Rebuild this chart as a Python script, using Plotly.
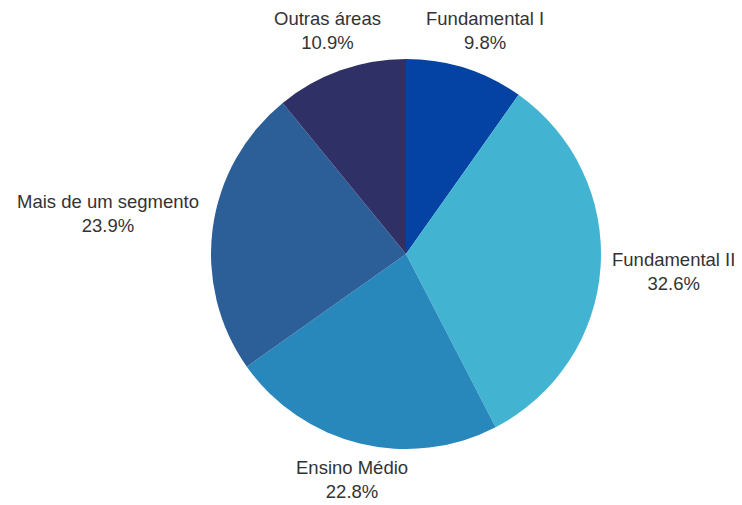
import math
import plotly.graph_objects as go

categories = ["Fundamental I", "Fundamental II", "Ensino Médio", "Mais de um segmento", "Outras áreas"]
values = [9.8, 32.6, 22.8, 23.9, 10.9]
colors = ["#0443a3", "#42b4d2", "#2887bb", "#2c5e97", "#2e3066"]

W, H = 742, 505
OFF = 8  # page body margin
cx, cy, r = 406 - OFF, 254 - OFF, 195
FS = 18.5

# small label placement nudges (pixels), layout only
label_nudge = {
    "Fundamental I": (-2, -3),
    "Fundamental II": (-2, 2),
    "Ensino Médio": (8, 1),
    "Mais de um segmento": (-1, -10),
    "Outras áreas": (10, -5),
}

fig = go.Figure(go.Pie(
    labels=categories,
    values=values,
    sort=False,
    direction="clockwise",
    rotation=0,
    marker=dict(colors=colors, line=dict(width=0)),
    textinfo="none",
    domain=dict(x=[(cx - r) / W, (cx + r) / W], y=[(H - cy - r) / H, (H - cy + r) / H]),
    showlegend=False,
    hoverinfo="label+percent",
))

total = sum(values)
cum = 0
annotations = []
for lab, v in zip(categories, values):
    mid = (cum + v / 2) / total * 2 * math.pi
    cum += v
    ux, uy = math.sin(mid), -math.cos(mid)
    d = r + 11
    px, py = cx + d * ux, cy + d * uy
    w_est = len(lab) * 0.52 * FS
    h_est = 46
    if ux > 0.5:
        xa, xs = "left", 0
    elif ux < -0.5:
        xa, xs = "right", 0
    else:
        xa, xs = "center", ux * w_est / 2
    if uy > 0.5:
        ya, ys = "top", 0
    elif uy < -0.5:
        ya, ys = "bottom", 0
    else:
        ya, ys = "middle", uy * h_est / 2
    nx, ny = label_nudge.get(lab, (0, 0))
    annotations.append(dict(
        x=(px + xs + nx) / W, y=1 - (py + ys + ny) / H, xref="paper", yref="paper",
        xanchor=xa, yanchor=ya, showarrow=False, align="center",
        text=f"{lab}<br>{v / total * 100:.1f}%",
        font=dict(family="Liberation Sans, Arial, sans-serif", size=FS, color="#333333"),
    ))

fig.update_layout(
    width=W, height=H,
    margin=dict(l=0, r=0, t=0, b=0),
    paper_bgcolor="white",
    plot_bgcolor="white",
    annotations=annotations,
)

fig.write_html("out.html")
